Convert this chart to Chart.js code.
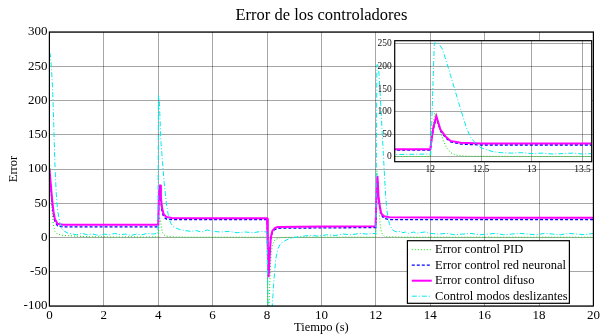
<!DOCTYPE html>
<html>
<head>
<meta charset="utf-8">
<script src="https://cdn.jsdelivr.net/npm/chart.js@4.4.1/dist/chart.umd.min.js"></script>
<style>
  body { margin: 0; background: #fff; }
  #wrap { position: relative; width: 600px; height: 335px; }
  #main { position: absolute; left: 0; top: 0; }
  #inset { position: absolute; left: 360px; top: 30px; }
</style>
</head>
<body>
<div id="wrap">
  <canvas id="main" width="600" height="335"></canvas>
  <canvas id="inset" width="236" height="155"></canvas>
</div>
<script>
// series names (legend order)
const seriesNames = ["Error control PID", "Error control red neuronal", "Error control difuso", "Control modos deslizantes"];

// PID
const pidT = [0, 0.02, 0.05, 0.1, 0.15, 0.2, 0.3, 0.5, 1, 1.5, 2, 2.5, 3, 3.5, 3.99,
  4.0, 4.04, 4.08, 4.12, 4.16, 4.2, 4.3, 4.5, 5, 6, 7, 7.99,
  8.0, 8.03, 8.07, 8.11, 8.15, 8.2, 8.3, 8.5, 9, 10, 11, 11.99,
  12.0, 12.02, 12.045, 12.07, 12.1, 12.13, 12.16, 12.2, 12.25, 12.3, 12.4, 12.6, 13, 14, 15, 16, 17, 18, 19, 20];
const pidE = [100, 105, 75, 38, 18, 9, 5, 3, 2, 1, 1, 0.5, 1, 0.5, 1,
  1, 30, 26, 14, 7, 4, 2, 1, 0.5, 0.5, 0.5, 0.5,
  0.5, -105, -105, -58, -25, -10, -3, 0, 0.5, 0.5, 0.5, 0.5,
  0.5, 55, 97, 80, 55, 35, 20, 9, 4, 2, 1, 1, 0.5, 0.5, 0.5, 0.5, 0.5, 0.5, 0.5, 0.5];

// red neuronal
const redT = [0, 0.05, 0.1, 0.15, 0.2, 0.3, 0.5, 2, 3.99,
  4.0, 4.03, 4.07, 4.1, 4.14, 4.2, 4.3, 4.5, 6, 7.99,
  8.0, 8.03, 8.06, 8.1, 8.14, 8.2, 8.3, 8.4, 10, 11.99,
  12.0, 12.03, 12.06, 12.1, 12.15, 12.2, 12.3, 12.5, 16, 20];
const redE = [100, 75, 50, 33, 24, 17, 15.5, 15.5, 15.5,
  15.5, 60, 70, 52, 38, 30, 27, 26, 26, 26,
  26, -12, -52, -24, -2, 8, 12, 13.5, 14, 14.5,
  14.5, 60, 87, 58, 42, 33, 28, 26, 26, 26];

// difuso
const difT = [0, 0.05, 0.1, 0.15, 0.2, 0.3, 0.5, 2, 3.99,
  4.0, 4.03, 4.07, 4.1, 4.14, 4.2, 4.3, 4.5, 6, 7.99,
  8.0, 8.03, 8.06, 8.1, 8.14, 8.2, 8.3, 8.4, 10, 11.99,
  12.0, 12.03, 12.06, 12.1, 12.15, 12.2, 12.3, 12.5, 16, 20];
const difE = [100, 78, 55, 38, 27, 20, 18.5, 18.5, 18.5,
  18.5, 65, 77, 58, 44, 34, 30, 28.5, 28, 28,
  28, -10, -58, -25, 0, 10, 14, 15.5, 16, 16.5,
  16.5, 65, 90, 60, 45, 35, 31, 29.5, 29, 29];

// modos deslizantes
const smcT = [0, 0.03, 0.08, 0.12, 0.16, 0.2, 0.25, 0.3, 0.38, 0.46, 0.55, 0.7, 0.85, 1.0, 1.2, 1.4, 1.6, 1.8, 2.0, 2.2, 2.4, 2.6, 2.8, 3.0, 3.2, 3.4, 3.6, 3.8, 3.99,
  4.01, 4.04, 4.1, 4.16, 4.22, 4.3, 4.38, 4.46, 4.55, 4.7, 4.85, 5.0, 5.2, 5.4, 5.6, 5.8, 6.0, 6.3, 6.6, 6.9, 7.2, 7.5, 7.8, 7.99,
  8.02, 8.05, 8.1, 8.2, 8.26, 8.32, 8.4, 8.5, 8.65, 8.8, 9.0, 9.3, 9.6, 9.9, 10.2, 10.5, 10.8, 11.1, 11.4, 11.7, 11.99,
  12.005, 12.04, 12.08, 12.12, 12.16, 12.2, 12.24, 12.28, 12.32, 12.36, 12.4, 12.45, 12.5, 12.56, 12.62, 12.7, 12.8, 12.9, 13.0, 13.1, 13.2, 13.3, 13.4, 13.5, 13.6, 13.8,
  14.0, 14.3, 14.6, 14.9, 15.2, 15.5, 15.8, 16.1, 16.4, 16.7, 17.0, 17.3, 17.6, 17.9, 18.2, 18.5, 18.8, 19.1, 19.4, 19.7, 20];
const smcE = [270, 268, 245, 215, 165, 110, 65, 40, 22, 13, 9, 6, 5, 4, 6, 4, 5, 3, 5, 4, 6, 4, 5, 3, 5, 4, 6, 5, 6,
  207, 200, 140, 110, 80, 50, 30, 21, 16, 13, 11, 10, 9, 10, 8, 11, 9, 8, 9, 7, 8, 7, 9, 8,
  -40, -120, -170, -95, -60, -32, -16, -9, -5, -2, 0, 2, 3, 2, 4, 3, 5, 4, 6, 5, 6, 5,
  252, 252, 238, 210, 180, 150, 120, 90, 62, 42, 29, 20, 15, 11, 9, 8, 9, 7, 8, 6, 7, 8, 6, 7, 8, 6,
  5, 6, 4, 5, 6, 4, 5, 6, 4, 5, 6, 5, 4, 6, 5, 4, 6, 5, 4, 6, 5];

// tick labels
const xTicks = [0, 2, 4, 6, 8, 10, 12, 14, 16, 18, 20];
const yTicks = [-100, -50, 0, 50, 100, 150, 200, 250, 300];
const insetXTicks = [12, 12.5, 13, 13.5];
const insetYTicks = [0, 50, 100, 150, 200, 250];

const serif = "'Liberation Serif', 'Times New Roman', serif";
const gridColor = "rgba(0, 0, 0, 0.35)";

function toPoints(ts, vs) {
  return ts.map((t, i) => ({ x: t, y: vs[i] }));
}

function makeDatasets() {
  return [
    { label: seriesNames[0], data: toPoints(pidT, pidE), borderColor: "rgb(0, 230, 0)", borderWidth: 1, borderDash: [1, 2], order: 4 },
    { label: seriesNames[1], data: toPoints(redT, redE), borderColor: "#0000ff", borderWidth: 1.3, borderDash: [3, 2], order: 3 },
    { label: seriesNames[2], data: toPoints(difT, difE), borderColor: "#ff00ff", borderWidth: 2, borderDash: [], order: 2 },
    { label: seriesNames[3], data: toPoints(smcT, smcE), borderColor: "rgb(0, 235, 235)", borderWidth: 1, borderDash: [5, 2, 1, 2], order: 1 }
  ].map(d => Object.assign(d, { pointRadius: 0, tension: 0, fill: false }));
}

// caja negra alrededor del area
const boxPlugin = {
  id: "box",
  beforeDraw(chart, args, opts) {
    if (opts.fill) {
      const a = chart.chartArea;
      chart.ctx.save();
      chart.ctx.fillStyle = "#fff";
      chart.ctx.fillRect(a.left, a.top, a.right - a.left, a.bottom - a.top);
      chart.ctx.restore();
    }
  },
  afterDatasetsDraw(chart) {
    const a = chart.chartArea;
    const ctx = chart.ctx;
    ctx.save();
    ctx.strokeStyle = "#000";
    ctx.lineWidth = 1.2;
    ctx.strokeRect(a.left, a.top, a.right - a.left, a.bottom - a.top);
    ctx.restore();
  }
};

// leyenda dentro del grafico
const legendPlugin = {
  id: "boxLegend",
  afterDraw(chart) {
    const a = chart.chartArea;
    const ctx = chart.ctx;
    const w = 162, h = 62.6;
    const x0 = a.right - 186, y0 = a.bottom - 65.3;
    ctx.save();
    ctx.fillStyle = "#fff";
    ctx.fillRect(x0, y0, w, h);
    ctx.strokeStyle = "#000";
    ctx.lineWidth = 1.2;
    ctx.strokeRect(x0, y0, w, h);
    ctx.font = "12.5px " + serif;
    ctx.textBaseline = "middle";
    chart.data.datasets.forEach((d, i) => {
      const y = y0 + 9 + i * 15.5;
      ctx.strokeStyle = d.borderColor;
      ctx.lineWidth = d.borderWidth;
      ctx.setLineDash(d.borderDash);
      ctx.beginPath();
      ctx.moveTo(x0 + 4.4, y);
      ctx.lineTo(x0 + 24.4, y);
      ctx.stroke();
      ctx.setLineDash([]);
      ctx.fillStyle = "#000";
      ctx.fillText(d.label, x0 + 27.7, y + 0.5);
    });
    ctx.restore();
  }
};

function tickSetter(arr) {
  return s => { s.ticks = arr.map(v => ({ value: v })); };
}

new Chart(document.getElementById("main"), {
  type: "line",
  data: { datasets: makeDatasets() },
  options: {
    responsive: false,
    animation: false,
    layout: { padding: { left: 0, right: 6.6, top: 0, bottom: 0 } },
    plugins: {
      legend: { display: false },
      tooltip: { enabled: false },
      box: { fill: false },
      title: {
        display: true,
        fullSize: false,
        text: "Error de los controladores",
        color: "#000",
        font: { family: serif, size: 16.5, weight: "normal" },
        padding: { top: 6, bottom: 6.2 }
      }
    },
    scales: {
      x: {
        type: "linear", min: 0, max: 20,
        afterBuildTicks: tickSetter(xTicks),
        afterFit: s => { s.height = 29; s.paddingLeft = 0; s.paddingRight = 0; },
        grid: { color: gridColor, lineWidth: 1, drawTicks: false },
        border: { display: false },
        ticks: { color: "#000", padding: 2, maxRotation: 0, autoSkip: false, font: { family: serif, size: 13 }, callback: v => String(v) },
        title: { display: true, text: "Tiempo (s)", color: "#000", font: { family: serif, size: 12.5 }, padding: { top: 0, bottom: 0 } }
      },
      y: {
        type: "linear", min: -100, max: 300,
        afterBuildTicks: tickSetter(yTicks),
        afterFit: s => { s.width = 49.4; },
        grid: { color: gridColor, lineWidth: 1, drawTicks: false },
        border: { display: false },
        ticks: { color: "#000", padding: 2, autoSkip: false, font: { family: serif, size: 13 }, callback: v => String(v) },
        title: { display: true, text: "Error", color: "#000", font: { family: serif, size: 12.5 }, padding: { top: 6, bottom: 0 } }
      }
    }
  },
  plugins: [boxPlugin, legendPlugin]
});

// grafico ampliado
new Chart(document.getElementById("inset"), {
  type: "line",
  data: { datasets: makeDatasets() },
  options: {
    responsive: false,
    animation: false,
    layout: { padding: { left: 0, right: 4.3, top: 10.7, bottom: 0 } },
    plugins: {
      legend: { display: false },
      tooltip: { enabled: false },
      box: { fill: true }
    },
    scales: {
      x: {
        type: "linear", min: 11.65, max: 13.59,
        afterBuildTicks: tickSetter(insetXTicks),
        afterFit: s => { s.height = 23.3; s.paddingLeft = 0; s.paddingRight = 0; },
        grid: { color: gridColor, lineWidth: 1, drawTicks: false },
        border: { display: false },
        ticks: { color: "#111", padding: 2, maxRotation: 0, autoSkip: false, font: { family: serif, size: 9.5 }, callback: v => String(v) },
      },
      y: {
        type: "linear", min: -11, max: 257,
        afterBuildTicks: tickSetter(insetYTicks),
        afterFit: s => { s.width = 34.7; s.paddingTop = 0; s.paddingBottom = 0; },
        grid: { color: gridColor, lineWidth: 1, drawTicks: false },
        border: { display: false },
        ticks: { color: "#111", padding: 3, autoSkip: false, font: { family: serif, size: 9.5 }, callback: v => String(v) }
      }
    }
  },
  plugins: [boxPlugin]
});
</script>
</body>
</html>
